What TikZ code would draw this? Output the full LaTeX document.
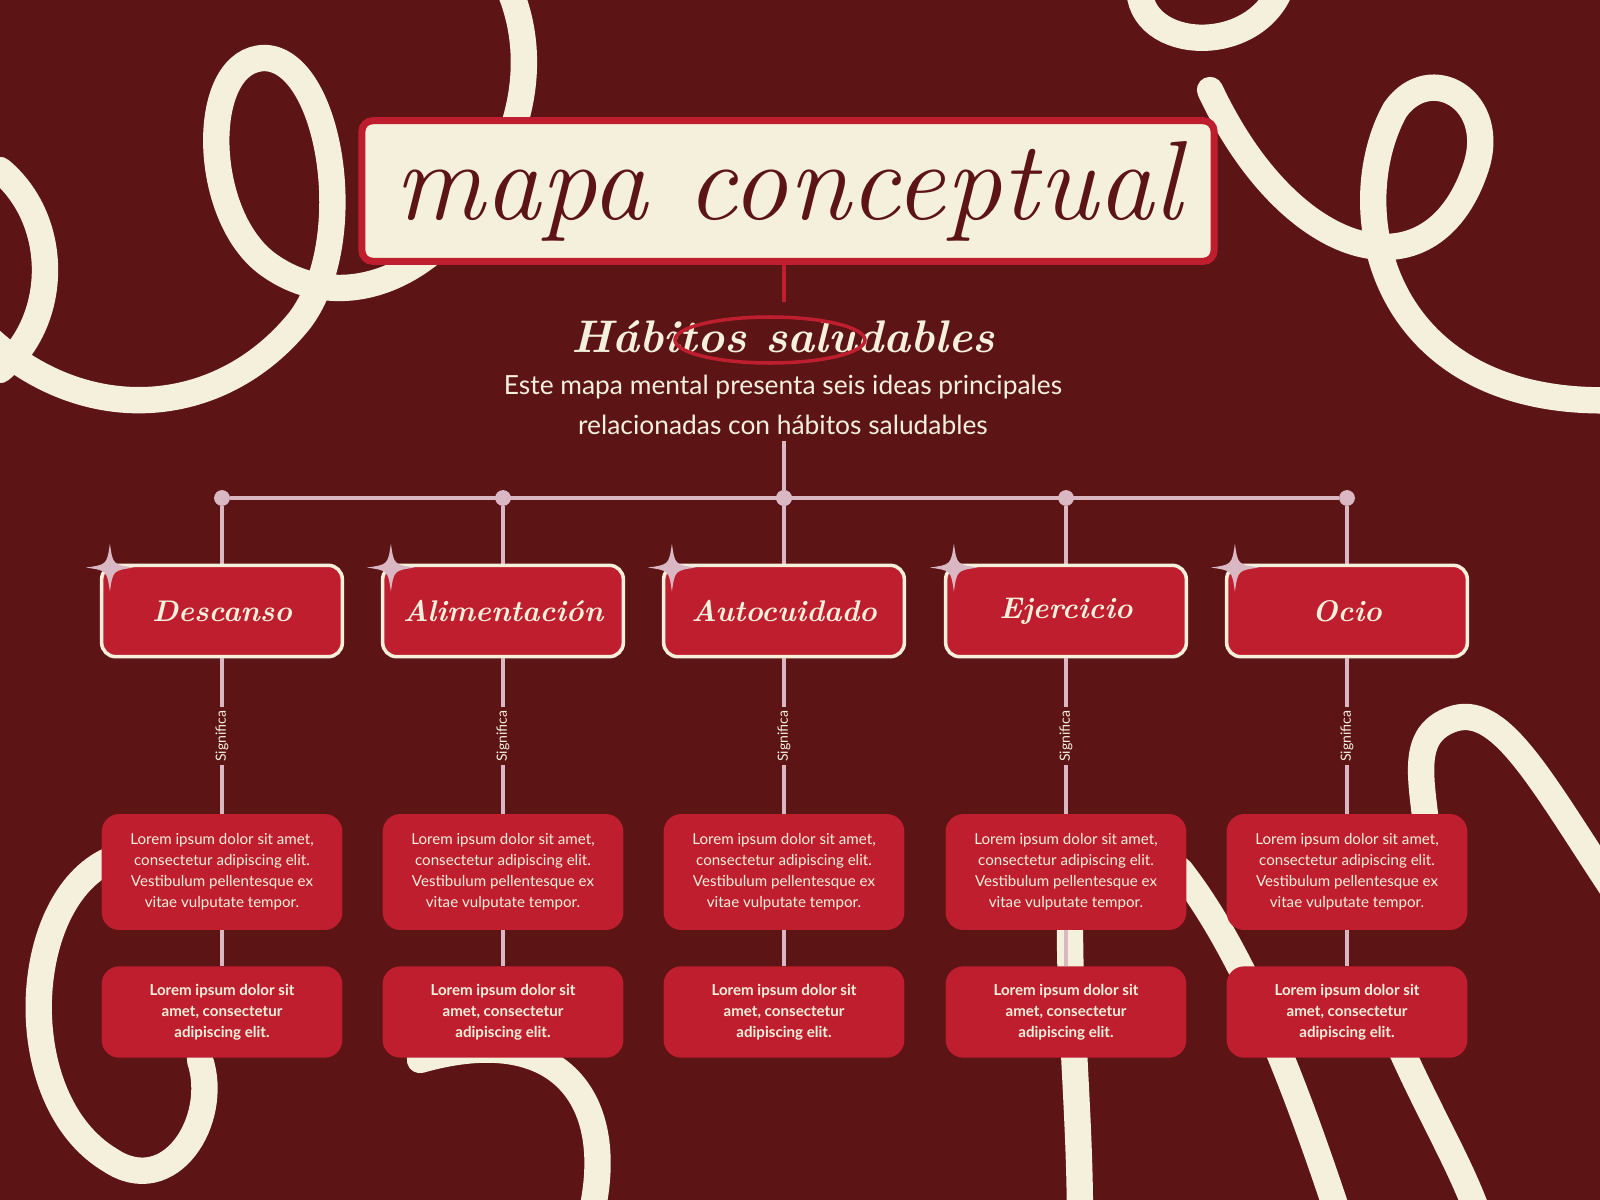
\documentclass[tikz,border=0pt]{standalone}
\usepackage{fontspec}
\setsansfont{Lato}
\usetikzlibrary{positioning,calc}
\definecolor{bgred}{HTML}{5C1414}
\definecolor{boxred}{HTML}{BE1E2D}
\definecolor{cream}{HTML}{F5F0DC}
\definecolor{linkpink}{HTML}{D9B8C4}
\tikzset{
  squiggle/.style={draw=cream,line width=15pt,line cap=round},
  topic/.style={draw=cream,line width=2pt,fill=boxred,rounded corners=8pt,
    minimum width=137pt,minimum height=52pt,text=cream,
    font=\fontsize{17}{17}\selectfont\itshape\bfseries},
  desc/.style={fill=boxred,rounded corners=10pt,minimum width=137pt,minimum height=66pt,
    text=cream,align=center,font=\sffamily\fontsize{8.6}{12}\selectfont},
  note/.style={fill=boxred,rounded corners=10pt,minimum width=137pt,minimum height=52pt,
    text=cream,align=center,font=\sffamily\bfseries\fontsize{8.6}{12}\selectfont},
  link/.style={draw=linkpink,line width=2pt},
  dot/.style={circle,fill=linkpink,inner sep=0pt,minimum size=9pt},
}
\begin{document}
\begin{tikzpicture}[x=0.02cm,y=-0.02cm]
\fill[bgred] (0,0) rectangle (1600,1200);
\useasboundingbox (0,0) rectangle (1600,1200);
% background squiggles
\begin{scope}
\clip (0,0) rectangle (1600,1200);
\draw[squiggle] (-20,330) .. controls (80,430) and (220,420) .. (300,320) .. controls (360,240) and (330,60) .. (265,58) .. controls (200,58) and (200,210) .. (265,262) .. controls (340,320) and (450,280) .. (505,150) .. controls (535,80) and (525,20) .. (505,-20);
\draw[squiggle] (0,170) .. controls (60,220) and (60,320) .. (0,370);
\draw[squiggle] (1140,-20) .. controls (1130,50) and (1250,60) .. (1280,-10);
\draw[squiggle] (1210,90) .. controls (1290,260) and (1430,300) .. (1475,170) .. controls (1500,100) and (1430,60) .. (1395,110) .. controls (1340,210) and (1380,410) .. (1620,400);
\draw[squiggle] (1620,900) .. controls (1540,780) and (1500,700) .. (1450,720) .. controls (1400,740) and (1430,800) .. (1430,880);
\draw[squiggle] (1180,870) .. controls (1250,960) and (1300,1100) .. (1340,1220);
\draw[squiggle] (1070,930) .. controls (1070,1020) and (1080,1120) .. (1080,1220);
\draw[squiggle] (1380,1000) .. controls (1420,1100) and (1460,1160) .. (1480,1220);
\draw[squiggle] (110,860) .. controls (20,900) and (10,1100) .. (110,1160) .. controls (170,1200) and (220,1120) .. (200,1060);
\draw[squiggle] (420,1060) .. controls (560,1020) and (620,1100) .. (590,1220);
\end{scope}
% title
\node[draw=boxred,line width=4pt,fill=cream,rounded corners=6pt,minimum width=485pt,minimum height=80pt,
  font=\fontsize{64}{64}\selectfont\itshape,text=bgred] (title) at (788,191) {mapa conceptual};
\node[text=cream,font=\fontsize{26}{26}\selectfont\itshape\bfseries] (sub) at (783,337) {Hábitos saludables};
\draw[boxred,line width=2pt] (770,340) ellipse (95 and 23);
\node[text=cream,align=center,font=\sffamily\fontsize{15}{22.5}\selectfont] (intro) at (783,405)
  {Este mapa mental presenta seis ideas principales\\relacionadas con hábitos saludables};
\node[dot] (hub) at (784,498) {};
\draw[boxred,line width=2pt] (title.south -| hub) -- (hub |- 0,302);
\draw[link] (intro.south -| hub) -- (hub);
% branches
\foreach \x/\name/\lab in {222/a/Descanso,503/b/Alimentación,784/c/Autocuidado,1066/d/Ejercicio,1347/e/Ocio}{
  \node[dot] (\name0) at (\x,498) {};
  \node[desc] (\name2) at (\x,872) {Lorem ipsum dolor sit amet,\\consectetur adipiscing elit.\\Vestibulum pellentesque ex\\vitae vulputate tempor.};
  \node[note] (\name3) at (\x,1012) {Lorem ipsum dolor sit\\amet, consectetur\\adipiscing elit.};
  \draw[link] (\name2) -- (\name3);
  \draw[link] (\name0) -- (\x,565);
  \node[topic] (\name1) at (\x,611) {\lab};
  \draw[link] (\name1) -- node[fill=bgred,rotate=90,inner sep=2pt,text=cream,
    font=\sffamily\fontsize{8}{8}\selectfont] {Significa} (\name2);
  \begin{scope}[shift={($(\name1.north west)+(10,4)$)}]
    \fill[linkpink] (0,-24) .. controls (3,-3) .. (24,0) .. controls (3,3) .. (0,24)
      .. controls (-3,3) .. (-24,0) .. controls (-3,-3) .. cycle;
  \end{scope}
}
\draw[link] (a0) -- (e0);
\end{tikzpicture}
\end{document}
